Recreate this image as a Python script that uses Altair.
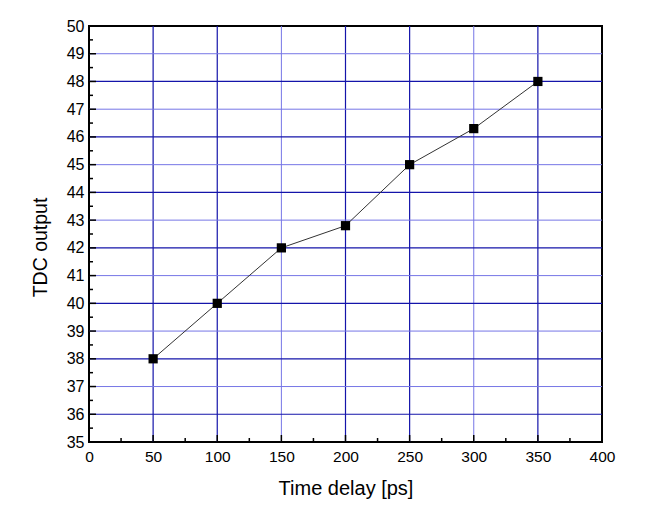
import altair as alt
import pandas as pd

delay = [50, 100, 150, 200, 250, 300, 350]
tdc = [38, 40, 42, 42.8, 45, 46.3, 48]

x_ticks = [0, 50, 100, 150, 200, 250, 300, 350, 400]
y_ticks = list(range(35, 51))

x_grid_dark = [50, 100, 200, 250, 350]
x_grid_light = [150, 300]
y_grid_dark = [36, 38, 40, 42, 44, 46, 48]
y_grid_light = [37, 39, 41, 43, 45, 47, 49]

x_major = [50, 100, 150, 200, 250, 300, 350]
x_minor = [25, 75, 125, 175, 225, 275, 325, 375]
y_major = list(range(36, 50))
y_minor = [v + 0.5 for v in range(35, 50)]

W, H = 513, 416
FONT = "Liberation Sans"

xs = alt.Scale(domain=[0, 400], nice=False, zero=False)
ys = alt.Scale(domain=[35, 50], nice=False, zero=False)

XAX = alt.Axis(title="Time delay [ps]", values=x_ticks, format="d",
               grid=False, ticks=False, domain=False,
               labelFont=FONT, labelFontSize=15.5, labelColor="black",
               labelPadding=7, labelFlush=False, labelOverlap=False,
               titleFont=FONT, titleFontSize=20, titleFontWeight="normal",
               titleColor="black", titlePadding=14)
YAX = alt.Axis(title="TDC output", values=y_ticks, format="d",
               grid=False, ticks=False, domain=False,
               labelFont=FONT, labelFontSize=16, labelColor="black",
               labelPadding=5, labelFlush=False, labelOverlap=False,
               labelBound=False,
               titleFont=FONT, titleFontSize=19.5, titleFontWeight="normal",
               titleColor="black", titleX=-49, titleY=221,
               titleAngle=270, titleAlign="center", titleBaseline="middle")

df = pd.DataFrame({"delay": delay, "tdc": tdc})

def vrules(vals, color, width):
    d = pd.DataFrame({"v": vals})
    return alt.Chart(d).mark_rule(color=color, strokeWidth=width).encode(
        x=alt.X("v:Q", scale=xs, axis=XAX), y=alt.value(0), y2=alt.value(H))

def hrules(vals, color, width):
    d = pd.DataFrame({"v": vals})
    return alt.Chart(d).mark_rule(color=color, strokeWidth=width).encode(
        y=alt.Y("v:Q", scale=ys, axis=YAX), x=alt.value(0), x2=alt.value(W))

def xticks(vals, length):
    d = pd.DataFrame({"v": vals})
    return alt.Chart(d).mark_rule(color="black", strokeWidth=1.5).encode(
        x=alt.X("v:Q", scale=xs, axis=XAX), y=alt.value(H), y2=alt.value(H - length))

def yticks(vals, length):
    d = pd.DataFrame({"v": vals})
    return alt.Chart(d).mark_rule(color="black", strokeWidth=1.5).encode(
        y=alt.Y("v:Q", scale=ys, axis=YAX), x=alt.value(0), x2=alt.value(length))

dark = "#1414aa"
light = "#7676e6"

line = alt.Chart(df).mark_line(color="#333333", strokeWidth=1).encode(
    x=alt.X("delay:Q", scale=xs, axis=XAX),
    y=alt.Y("tdc:Q", scale=ys, axis=YAX),
)

points = alt.Chart(df).mark_square(color="black", size=85, opacity=1).encode(
    x=alt.X("delay:Q", scale=xs, axis=XAX), y=alt.Y("tdc:Q", scale=ys, axis=YAX))

chart = alt.layer(
    vrules(x_grid_light, light, 1), vrules(x_grid_dark, dark, 1.2),
    hrules(y_grid_light, light, 1), hrules(y_grid_dark, dark, 1.2),
    xticks(x_major, 7), xticks(x_minor, 4),
    yticks(y_major, 7), yticks(y_minor, 4),
    line, points,
).properties(
    width=W, height=H,
    autosize=alt.AutoSizeParams(type="none"),
    padding={"left": 89, "top": 26, "right": 43, "bottom": 66},
    background="white",
).configure_view(stroke="black", strokeWidth=2).configure_axis(labelOverlap=False)

chart.save("out.html", embed_options={"renderer": "svg", "actions": False})
